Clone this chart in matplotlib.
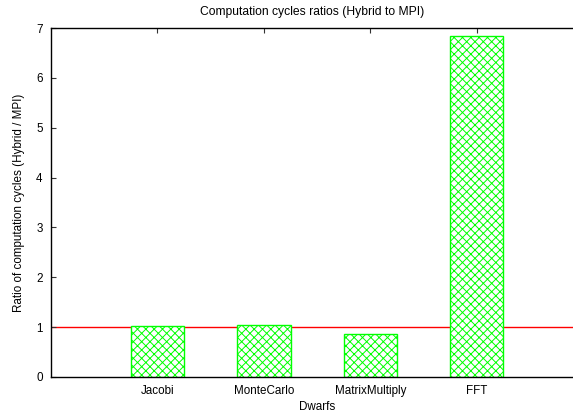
import numpy as np
import matplotlib.pyplot as plt

plt.rcParams['font.family'] = ['Liberation Sans', 'DejaVu Sans']
plt.rcParams['hatch.linewidth'] = 0.7
plt.rcParams['hatch.color'] = '#00ff00'

dwarfs = ['Jacobi', 'MonteCarlo', 'MatrixMultiply', 'FFT']
ratios = [1.02, 1.04, 0.86, 6.84]
baseline = 1.0

fig = plt.figure(figsize=(5.73, 4.13), dpi=100)
# gnuplot-like frame; right border runs just past the canvas edge
ax = fig.add_axes([0.089, 0.0872, 0.929, 0.845])

x = np.arange(1, len(dwarfs) + 1)
ax.axhline(baseline, color='#ff0000', linewidth=1.0, zorder=1)
ax.bar(x, ratios, width=0.5, facecolor='white', edgecolor='#00ff00',
       hatch='xxxx', linewidth=1.0, zorder=2)

ax.set_xlim(0, 5)
ax.set_ylim(0, 7)
ax.set_xticks(x)
ax.set_xticklabels(dwarfs)
ax.set_yticks(range(0, 8))

ax.tick_params(direction='in', length=3.5, width=0.8, labelsize=8.4,
               top=True, right=True, pad=6, color='#333333')
for side in ax.spines.values():
    side.set_linewidth(1.0)

ax.set_xlabel('Dwarfs', fontsize=8.4, labelpad=3)
ax.set_ylabel('Ratio of computation cycles (Hybrid / MPI)', fontsize=8.4, labelpad=8)
fig.text(0.545, 0.971, 'Computation cycles ratios (Hybrid to MPI)',
         ha='center', va='center', fontsize=8.7)

fig.savefig('out.png', dpi=100)
